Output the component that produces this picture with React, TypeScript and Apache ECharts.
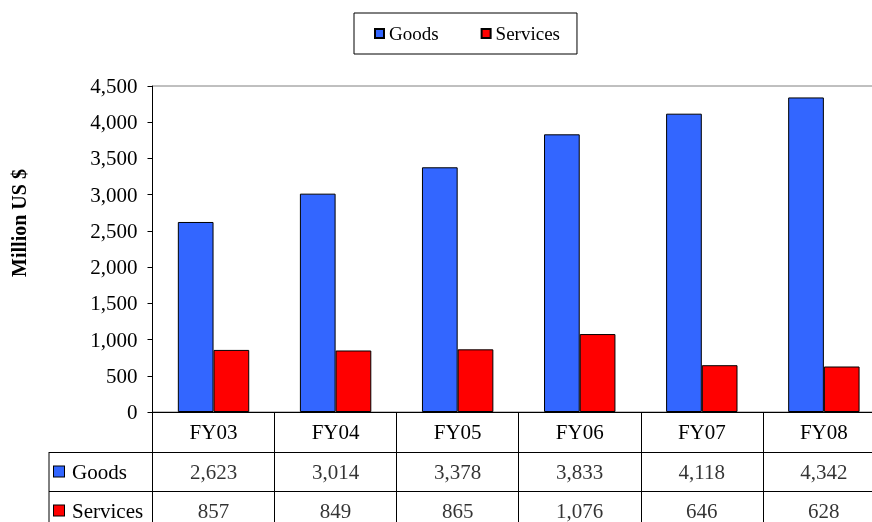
import React, { useEffect, useRef } from 'react';
import * as echarts from 'echarts';

const categories = ['FY03', 'FY04', 'FY05', 'FY06', 'FY07', 'FY08'];
const goods = [2623, 3014, 3378, 3833, 4118, 4342];
const services = [857, 849, 865, 1076, 646, 628];
const seriesNames = ['Goods', 'Services'];
const yMin = 0;
const yMax = 4500;
const yInterval = 500;
const axisTitle = 'Million US $';

const FONT = '"Liberation Serif", "Times New Roman", serif';
const BLUE = '#3366FF';
const RED = '#FF0000';

const fmt = (v: number) => Number(v).toLocaleString('en-US');

export default function App() {
  const ref = useRef<HTMLDivElement>(null);
  useEffect(() => {
    if (!ref.current) return;
    const chart = echarts.init(ref.current, undefined, { renderer: 'svg' });
    const option: any = {
      animation: false,
      textStyle: { fontFamily: FONT, color: '#000' },
      legend: {
        data: seriesNames,
        left: 354,
        top: 13,
        padding: [11, 17, 11, 20],
        itemGap: 42,
        itemWidth: 9,
        itemHeight: 9,
        icon: 'rect',
        borderColor: '#000',
        borderWidth: 1,
        textStyle: { fontSize: 19, color: '#000', fontFamily: FONT },
      },
      grid: [
        { left: 152.5, width: 732.4, top: 86, height: 326, show: true, borderColor: '#808080', borderWidth: 1 },
        { left: 152.5, width: 732.4, top: 452, height: 78 },
      ],
      xAxis: [
        {
          type: 'category',
          gridIndex: 0,
          data: categories,
          axisLine: { lineStyle: { color: '#000', width: 1 } },
          axisTick: { show: true, length: 40, lineStyle: { color: '#000' } },
          axisLabel: { fontSize: 21, color: '#000', margin: 9, fontFamily: FONT },
        },
        {
          type: 'category',
          gridIndex: 1,
          data: categories,
          position: 'top',
          axisLine: { show: true, lineStyle: { color: '#000' } },
          axisTick: { show: false },
          axisLabel: { show: false },
          splitLine: { show: true, lineStyle: { color: '#000' } },
        },
      ],
      yAxis: [
        {
          type: 'value',
          gridIndex: 0,
          min: yMin,
          max: yMax,
          interval: yInterval,
          axisLine: { show: true, lineStyle: { color: '#000' } },
          axisTick: { show: true, length: 5, lineStyle: { color: '#000' } },
          splitLine: { show: false },
          axisLabel: { fontSize: 21, color: '#000', margin: 15, fontFamily: FONT, formatter: (v: number) => fmt(v) },
        },
        {
          type: 'category',
          gridIndex: 1,
          data: seriesNames,
          inverse: true,
          axisLine: { show: true, lineStyle: { color: '#000' } },
          axisTick: { show: true, length: 103.5, lineStyle: { color: '#000' } },
          splitLine: { show: true, lineStyle: { color: '#000' } },
          axisLabel: {
            align: 'left',
            margin: 98.5,
            formatter: (v: string) => (v === seriesNames[0] ? `{mg| }{t|${v}}` : `{ms| }{t|${v}}`),
            rich: {
              mg: { width: 10, height: 10, backgroundColor: BLUE, borderColor: '#000', borderWidth: 1 },
              ms: { width: 10, height: 10, backgroundColor: RED, borderColor: '#000', borderWidth: 1 },
              t: { fontSize: 21, color: '#000', fontFamily: FONT, padding: [0, 0, 0, 8] },
            },
          },
        },
      ],
      series: [
        {
          name: seriesNames[0],
          type: 'bar',
          xAxisIndex: 0,
          yAxisIndex: 0,
          data: goods,
          barGap: '0%',
          barCategoryGap: '41.5%',
          itemStyle: { color: BLUE, borderColor: '#000', borderWidth: 1 },
        },
        {
          name: seriesNames[1],
          type: 'bar',
          xAxisIndex: 0,
          yAxisIndex: 0,
          data: services,
          barGap: '0%',
          barCategoryGap: '41.5%',
          itemStyle: { color: RED, borderColor: '#000', borderWidth: 1 },
        },
        {
          name: 'tableGoods',
          type: 'scatter',
          xAxisIndex: 1,
          yAxisIndex: 1,
          symbolSize: 1,
          silent: true,
          itemStyle: { color: 'rgba(0,0,0,0)' },
          data: goods.map((v, i) => [categories[i], seriesNames[0], v]),
          label: { show: true, position: 'inside', fontSize: 21, color: '#000', fontFamily: FONT, formatter: (p: any) => fmt(p.value[2]) },
        },
        {
          name: 'tableServices',
          type: 'scatter',
          xAxisIndex: 1,
          yAxisIndex: 1,
          symbolSize: 1,
          silent: true,
          itemStyle: { color: 'rgba(0,0,0,0)' },
          data: services.map((v, i) => [categories[i], seriesNames[1], v]),
          label: { show: true, position: 'inside', fontSize: 21, color: '#000', fontFamily: FONT, formatter: (p: any) => fmt(p.value[2]) },
        },
      ],
      graphic: [
        {
          type: 'text',
          x: 19,
          y: 223,
          rotation: Math.PI / 2,
          style: { text: axisTitle, font: `bold 20px ${FONT}`, fill: '#000', align: 'center', verticalAlign: 'middle' },
        },
        {
          type: 'line',
          shape: { x1: 49, y1: 452, x2: 49, y2: 530 },
          style: { stroke: '#000', lineWidth: 1 },
        },
      ],
    };
    chart.setOption(option);
    return () => chart.dispose();
  }, []);
  return (
    <div style={{ position: 'fixed', left: 0, top: 0, width: 872, height: 522, overflow: 'hidden' }}>
      <div ref={ref} style={{ position: 'absolute', left: 0, top: 0, width: 900, height: 540 }} />
    </div>
  );
}
